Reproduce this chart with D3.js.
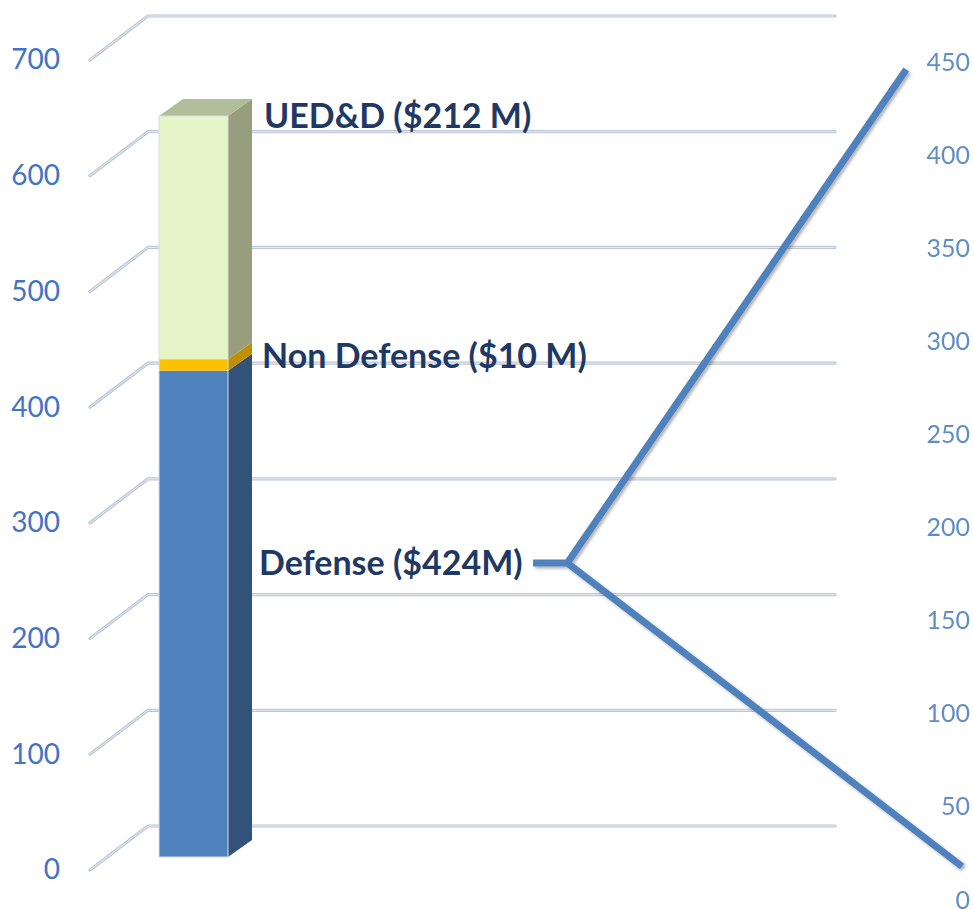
<!DOCTYPE html>
<html>
<head>
<meta charset="utf-8">
<script src="https://cdn.jsdelivr.net/npm/d3@7"></script>
<style>
  html, body { margin: 0; padding: 0; background: #fff; }
  svg { display: block; }
</style>
</head>
<body>
<div id="chart"></div>
<script>
// chart values
const leftTicks = [0, 100, 200, 300, 400, 500, 600, 700];
const rightTicks = [0, 50, 100, 150, 200, 250, 300, 350, 400, 450];
const category = ['Total'];
const segmentNames = ['Defense', 'Non Defense', 'UED&D'];
const segmentValues = [424, 10, 212];
const segmentLabels = ['Defense ($424M)', 'Non Defense ($10 M)', 'UED&D ($212 M)'];
// connector line (x in 0..100 across the connector span)
const connectorX = [0, 8, 87, 100];
const connectorY = [181, 181, 446, 18];

const width = 973, height = 909;
const depth = {x: 24, y: -17};       // bar depth
const wall = {x: 58, y: -44};        // gridline depth

const svg = d3.select('#chart').append('svg')
    .attr('width', width).attr('height', height);

const defs = svg.append('defs');
defs.append('filter').attr('id', 'shadow')
    .attr('x', '-10%').attr('y', '-10%').attr('width', '130%').attr('height', '130%')
    .append('feDropShadow')
    .attr('dx', 2).attr('dy', 2).attr('stdDeviation', 1.5)
    .attr('flood-color', '#000').attr('flood-opacity', 0.3);

const yLeft = d3.scaleLinear().domain([0, 700]).range([870, 60]);
const yBar = d3.scaleLinear().domain([0, 646]).range([857, 116]);
const yRight = d3.scaleLinear().domain([0, 450]).range([900, 62]);
const xBar = d3.scaleBand().domain(category).range([159, 228]).padding(0);
const xConn = d3.scaleLinear().domain([0, 100]).range([533, 962]);

// gridlines (front stub + back wall line)
const grid = svg.append('g');
leftTicks.forEach(v => {
    const y0 = yLeft(v);
    const pts = [[90, y0], [90 + wall.x, y0 + wall.y], [835, y0 + wall.y]];
    grid.append('path').attr('d', d3.line()(pts))
        .attr('fill', 'none').attr('stroke', '#bcc6d5').attr('stroke-width', 3.2)
        .attr('stroke-linecap', 'round').attr('stroke-linejoin', 'round');
    grid.append('path').attr('d', d3.line()(pts))
        .attr('fill', 'none').attr('stroke', '#e9edf3').attr('stroke-width', 1)
        .attr('stroke-linecap', 'round').attr('stroke-linejoin', 'round');
});

// left axis
const leftAxis = svg.append('g').attr('transform', 'translate(60,0)')
    .call(d3.axisLeft(yLeft).tickValues(leftTicks).tickSize(0).tickPadding(0));
leftAxis.select('.domain').remove();
leftAxis.selectAll('text')
    .attr('font-family', 'Lato, "Open Sans", sans-serif')
    .attr('font-size', 28).attr('fill', '#4472c4');

// right axis
const rightAxis = svg.append('g').attr('transform', 'translate(970,0)')
    .call(d3.axisLeft(yRight).tickValues(rightTicks).tickSize(0).tickPadding(0));
rightAxis.select('.domain').remove();
rightAxis.selectAll('text')
    .attr('font-family', 'Lato, "Open Sans", sans-serif')
    .attr('font-size', 25).attr('fill', '#4f81bd').attr('opacity', 0.9);

// stacked 3D bar
const stackData = [Object.fromEntries(segmentNames.map((n, i) => [n, segmentValues[i]]))];
const series = d3.stack().keys(segmentNames)(stackData);
const fronts = ['#4f81bd', '#ffc000', '#e6f5c8'];
const sides = ['#32527a', '#bf9000', '#979d7d'];
const tops = ['#3c6496', '#d9a400', '#b1bd99'];

const bar = svg.append('g');
const x0 = xBar('Total'), x1 = x0 + xBar.bandwidth();
series.forEach((s, i) => {
    const yb = yBar(s[0][0]), yt = yBar(s[0][1]);
    bar.append('path')
        .attr('d', d3.line()([[x1, yb], [x1 + depth.x, yb + depth.y], [x1 + depth.x, yt + depth.y], [x1, yt]]) + 'Z')
        .attr('fill', sides[i]);
    bar.append('rect').attr('x', x0).attr('y', yt)
        .attr('width', x1 - x0).attr('height', yb - yt).attr('fill', fronts[i]);
    if (i === series.length - 1) {
        bar.append('path')
            .attr('d', d3.line()([[x0, yt], [x0 + depth.x, yt + depth.y], [x1 + depth.x, yt + depth.y], [x1, yt]]) + 'Z')
            .attr('fill', tops[i]);
    }
});
bar.append('rect').attr('x', x0).attr('y', yBar(646))
    .attr('width', x1 - x0).attr('height', yBar(0) - yBar(646))
    .attr('fill', 'none').attr('stroke', '#d8dde6').attr('stroke-width', 1);

// connector line
const conn = svg.append('g').attr('filter', 'url(#shadow)');
const pts = connectorX.map((x, i) => [xConn(x), yRight(connectorY[i])]);
conn.append('path').attr('d', d3.line()([pts[0], pts[1], pts[2]]) + 'M' + pts[1] + 'L' + pts[3])
    .attr('fill', 'none').attr('stroke', '#4f81bd').attr('stroke-width', 7)
    .attr('stroke-linejoin', 'miter');

// segment labels
const labelY = [yRight(connectorY[0]), yBar(series[1][0][1]) - 3, yBar(series[2][0][1])];
const labelX = [259, 262, 264];
svg.append('g').selectAll('text').data(segmentLabels).join('text')
    .attr('x', (d, i) => labelX[i]).attr('y', (d, i) => labelY[i])
    .attr('dy', '0.35em')
    .attr('font-family', 'Lato, "Open Sans", sans-serif')
    .attr('font-weight', 'bold').attr('font-size', 34)
    .attr('fill', '#1f3864')
    .text(d => d);
</script>
</body>
</html>
